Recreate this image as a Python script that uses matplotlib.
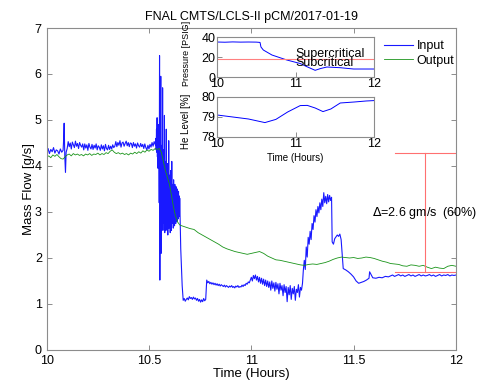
import numpy as np
import matplotlib
matplotlib.use("Agg")
import matplotlib.pyplot as plt

plt.rcParams['font.family'] = ['Liberation Sans', 'DejaVu Sans']

# ---- main plot data: mass flow [g/s] vs time [h] ----
# each segment: (t_start, t_end, values sampled evenly between them)
INPUT_SEGMENTS = [
    (10.000, 10.080, [4.30, 4.38, 4.27, 4.36, 4.31, 4.40, 4.28, 4.35, 4.33, 4.26, 4.37, 4.30, 4.34]),
    (10.082, 10.095, [4.50, 4.93, 4.20, 3.86, 4.30]),
    (10.100, 10.530, [4.38, 4.53, 4.42, 4.50, 4.37, 4.52, 4.46, 4.40, 4.54, 4.43, 4.49, 4.38, 4.51, 4.45, 4.41, 4.48,
                      4.35, 4.48, 4.39, 4.46, 4.34, 4.49, 4.41, 4.37, 4.47, 4.36, 4.45, 4.39, 4.48, 4.35, 4.44, 4.41,
                      4.34, 4.46, 4.37, 4.44, 4.33, 4.47, 4.38, 4.35, 4.45, 4.36, 4.43, 4.37, 4.46, 4.40,
                      4.43, 4.53, 4.42, 4.51, 4.45, 4.55, 4.41, 4.50, 4.52, 4.43, 4.49, 4.54, 4.44, 4.51, 4.42, 4.50,
                      4.49, 4.40, 4.51, 4.43, 4.48, 4.39, 4.50, 4.44, 4.41, 4.49, 4.42, 4.47, 4.38, 4.48, 4.40, 4.35,
                      4.45, 4.37, 4.47, 4.41, 4.51, 4.43, 4.53, 4.47]),
    (10.532, 10.650, [4.45, 4.60, 4.35, 4.80, 4.30, 5.05, 4.20, 4.70, 3.95, 4.90, 4.10,
                      4.50, 3.20, 6.40, 1.52, 4.40, 2.90, 5.95, 2.10, 4.30, 3.00, 4.45, 2.70, 5.70, 2.60, 4.20,
                      2.90, 4.35, 2.75, 5.10, 2.55, 4.10, 2.80, 4.00, 2.60, 4.80, 2.70, 3.90, 2.85, 4.05, 2.50,
                      3.85, 2.75, 4.55, 2.65, 3.80, 2.90, 3.70, 2.55, 3.90, 2.80, 3.65, 2.60, 4.10, 2.75, 3.60,
                      2.90, 3.55, 2.65, 3.70, 2.80, 3.50, 2.70, 3.60, 2.85, 3.45, 2.75, 3.55, 2.90, 3.40, 2.80,
                      3.50, 2.95, 3.40, 2.85, 3.45, 3.00, 3.35, 2.90, 3.30]),
    (10.655, 10.662, [2.20, 1.40]),
    (10.667, 10.777, [1.08, 1.12, 1.06, 1.10, 1.13, 1.09, 1.16, 1.12, 1.14, 1.10, 1.15, 1.11, 1.13, 1.08, 1.12, 1.06,
                      1.10, 1.04, 1.09, 1.05, 1.12, 1.07, 1.10]),
    (10.782, 10.990, [1.52, 1.46, 1.49, 1.44, 1.47, 1.43, 1.46, 1.42, 1.45, 1.41, 1.44, 1.40, 1.43, 1.39, 1.42, 1.40,
                      1.38, 1.41, 1.37, 1.40, 1.38, 1.36, 1.39, 1.37, 1.40, 1.36, 1.38, 1.35, 1.39, 1.37, 1.40, 1.36,
                      1.38, 1.37, 1.41, 1.38, 1.42, 1.40, 1.45, 1.43, 1.48, 1.46]),
    (10.995, 11.250, [1.52, 1.58, 1.50, 1.62, 1.55, 1.63, 1.52, 1.60, 1.48, 1.58, 1.45, 1.56, 1.43, 1.54, 1.40, 1.52,
                      1.38, 1.50, 1.36, 1.48, 1.30, 1.50, 1.34, 1.46, 1.28, 1.47, 1.32, 1.44, 1.22, 1.45, 1.30, 1.40,
                      1.18, 1.42, 1.25, 1.38, 1.05, 1.36, 1.20, 1.40, 1.10, 1.34, 1.22, 1.38, 1.08, 1.32, 1.25, 1.42,
                      1.15, 1.36, 1.30, 1.45]),
    (11.254, 11.392, [1.73, 1.95, 1.75, 2.24, 2.02, 2.45, 2.30, 2.58, 2.40, 2.75, 2.62, 2.92, 2.78, 3.05, 2.90, 3.12,
                      2.98, 3.20, 3.05, 3.28, 3.12, 3.42, 3.20, 3.34, 3.18, 3.38, 3.22, 3.36, 3.25, 3.32]),
    (11.395, 11.445, [2.35, 2.30, 2.42, 2.46, 2.50, 2.47, 2.52, 2.40, 2.00]),
    (11.449, 11.575, [1.77, 1.74, 1.70, 1.65, 1.59, 1.50, 1.45, 1.47, 1.49, 1.52, 1.56]),
    (11.578, 11.670, [1.70, 1.57, 1.56, 1.58, 1.57, 1.60, 1.59]),
    (11.680, 12.000, [1.61, 1.63, 1.60, 1.62, 1.64, 1.61, 1.63, 1.60, 1.62, 1.64, 1.61, 1.63, 1.60, 1.62, 1.64, 1.61,
                      1.63, 1.61, 1.62, 1.64, 1.61, 1.63, 1.60, 1.62, 1.64, 1.61, 1.63, 1.62, 1.64, 1.61, 1.63, 1.62,
                      1.63]),
]

OUTPUT_SEGMENTS = [
    (10.00, 10.55, [4.19, 4.22, 4.18, 4.24, 4.21, 4.25, 4.20, 4.16, 4.15, 4.20, 4.24, 4.26, 4.22, 4.27, 4.24, 4.26,
                    4.23, 4.25, 4.22, 4.26, 4.24, 4.27, 4.23, 4.26, 4.25, 4.28, 4.24, 4.27, 4.25, 4.29, 4.27, 4.32,
                    4.35, 4.30, 4.27, 4.29, 4.26, 4.28, 4.25, 4.27, 4.24, 4.28, 4.26, 4.30, 4.27, 4.31, 4.28, 4.33,
                    4.30, 4.35, 4.32, 4.36, 4.34, 4.38, 4.36, 4.38]),
    (10.56, 10.65, [4.30, 4.10, 3.90, 3.75, 3.60, 3.35, 3.10, 2.90, 2.78, 2.72]),
    (10.66, 12.00, [2.70, 2.67, 2.64, 2.62, 2.55, 2.50, 2.45, 2.40, 2.35, 2.30, 2.24, 2.20, 2.17, 2.14, 2.12, 2.10,
                    2.08, 2.10, 2.12, 2.14, 2.10, 2.04, 2.00, 1.96, 1.95, 1.93, 1.91, 1.89, 1.87, 1.85, 1.84, 1.86,
                    1.87, 1.86, 1.88, 1.90, 1.93, 1.97, 2.00, 2.02, 2.01, 2.00, 2.01, 1.99, 2.00, 2.02, 2.01, 1.99,
                    1.96, 1.93, 1.91, 1.88, 1.87, 1.86, 1.83, 1.82, 1.85, 1.84, 1.82, 1.84, 1.80, 1.77, 1.80, 1.78,
                    1.77, 1.82, 1.84, 1.82]),
]

# ---- inset data ----
press_t = [10.00, 10.10, 10.20, 10.30, 10.40, 10.50, 10.548, 10.56, 10.59, 10.70, 10.89, 11.06, 11.14,
           11.25, 11.32, 11.40, 11.57, 11.74, 11.85, 12.00]
press_v = [35.0, 34.8, 35.1, 34.9, 35.0, 34.9, 34.6, 30.0, 27.0, 22.0, 17.0, 13.5, 10.5,
           6.7, 8.5, 10.0, 9.3, 8.0, 8.0, 8.0]
crit_press = 18.0

level_t = [10.00, 10.20, 10.40, 10.61, 10.75, 10.90, 11.06, 11.15, 11.25, 11.35, 11.45, 11.57, 11.75, 11.90, 12.00]
level_v = [79.10, 79.00, 78.90, 78.72, 78.88, 79.25, 79.57, 79.58, 79.45, 79.27, 79.40, 79.70, 79.75, 79.80, 79.82]

# ---- delta annotation ----
delta_top = 4.29
delta_bot = 1.70
delta_x = 11.85
delta_x0 = 11.70
delta_label = r'$\Delta$=2.6 gm/s  (60%)'


def build(segments):
    t, v = [], []
    for t0, t1, vals in segments:
        t.extend(np.linspace(t0, t1, len(vals)))
        v.extend(vals)
    return np.array(t), np.array(v)


def style_axes(ax):
    for s in ax.spines.values():
        s.set_color('#8c8c8c')
        s.set_linewidth(0.8)
    ax.tick_params(direction='in', top=True, right=True, length=3.5, width=0.7,
                   color='#8c8c8c', labelsize=9)


in_t, in_v = build(INPUT_SEGMENTS)
out_t, out_v = build(OUTPUT_SEGMENTS)

fig = plt.figure(figsize=(4.87, 3.82), dpi=100)
ax = fig.add_axes([0.0959, 0.0838, 0.8404, 0.8429])
ax.plot(in_t, in_v, color='#0000ff', lw=0.8, alpha=0.9, label='Input')
ax.plot(out_t, out_v, color='#1a941a', lw=0.6, label='Output')

ax.plot([delta_x0, 12.0], [delta_top, delta_top], color='#ff7070', lw=0.8)
ax.plot([delta_x0, 12.0], [delta_bot, delta_bot], color='#ff7070', lw=0.8)
ax.plot([delta_x, delta_x], [delta_bot, delta_top], color='#ff7070', lw=0.8)
ax.text(11.59, 2.98, delta_label, fontsize=9, va='center', ha='left')

ax.set_xlim(10, 12)
ax.set_ylim(0, 7)
ax.set_xticks([10, 10.5, 11, 11.5, 12])
ax.set_xticklabels(['10', '10.5', '11', '11.5', '12'])
ax.set_yticks(range(0, 8))
style_axes(ax)
ax.set_xlabel('Time (Hours)', fontsize=9.5, labelpad=1)
ax.set_ylabel('Mass Flow [g/s]', fontsize=9.5, labelpad=0)
ax.set_title('FNAL CMTS/LCLS-II pCM/2017-01-19', fontsize=9, pad=6)

fig.legend(loc='upper left', bbox_to_anchor=(378 / 487, 1 - 34 / 382), frameon=False,
           fontsize=9, handlelength=2.3, handletextpad=0.3, labelspacing=0.2, borderpad=0)

# pressure inset
ax1 = fig.add_axes([0.4456, 0.7984, 0.3224, 0.1047])
ax1.plot(press_t, press_v, color='#0000ff', lw=0.7)
ax1.axhline(crit_press, color='#ff8080', lw=0.8)
ax1.text(11.0, 23.5, 'Supercritical', fontsize=9, va='center', ha='left', clip_on=False)
ax1.text(11.0, 14.0, 'Subcritical', fontsize=9, va='center', ha='left', clip_on=False)
ax1.set_xlim(10, 12)
ax1.set_ylim(0, 40)
ax1.set_xticks([10, 11, 12])
ax1.set_yticks([0, 20, 40])
style_axes(ax1)
ax1.tick_params(top=False, right=False, pad=1)
ax1.set_ylabel('Pressure [PSIG]', fontsize=6.5)
ax1.yaxis.set_label_coords(-0.165, 0.6)

# level inset
ax2 = fig.add_axes([0.4456, 0.6414, 0.3224, 0.1047])
ax2.plot(level_t, level_v, color='#0000ff', lw=0.7)
ax2.set_xlim(10, 12)
ax2.set_ylim(78, 80)
ax2.set_xticks([10, 11, 12])
ax2.set_yticks([78, 79, 80])
style_axes(ax2)
ax2.tick_params(top=False, right=False, pad=1)
ax2.set_ylabel('He Level [%]', fontsize=7)
ax2.yaxis.set_label_coords(-0.165, 0.4)
ax2.set_xlabel('Time (Hours)', fontsize=7, labelpad=2)

fig.savefig('out.png', dpi=100)
